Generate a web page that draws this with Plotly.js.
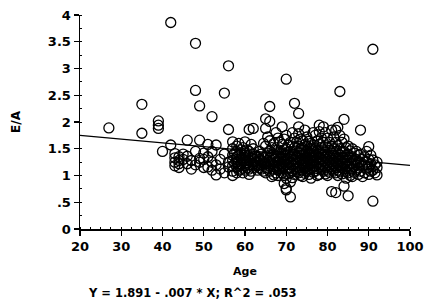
<!DOCTYPE html>
<html>
<head>
<meta charset="utf-8">
<script src="https://cdn.plot.ly/plotly-3.0.1.min.js"></script>
<style>html,body{margin:0;padding:0;background:#fff;}#chart{width:434px;height:307px;}</style>
</head>
<body>
<div id="chart"></div>
<script>
// Age (years) of each subject, group read on whole years
const age = [
  27, 35, 35, 39, 39, 39, 40, 42, 42, 43, 43, 43, 43,
  44, 44, 44, 44, 45, 45, 46, 46, 46, 47, 47,
  48, 48, 48, 48, 49, 49, 49, 49, 50, 50, 50, 51, 51, 51,
  52, 52, 52, 52, 53, 53, 53, 54, 54, 55, 55, 55, 56, 56, 56, 56,
  57, 57, 57, 57, 57, 57, 57, 58, 58, 58, 58, 58, 58, 58,
  59, 59, 59, 59, 59, 59, 60, 60, 60, 60, 60, 60, 60,
  61, 61, 61, 61, 61, 61, 61, 62, 62, 62, 62, 62, 62,
  63, 63, 63, 63, 64, 64, 64, 64,
  65, 65, 65, 65, 65, 65, 65, 66, 66, 66, 66, 66, 66, 66, 66,
  67, 67, 67, 67, 67, 67, 68, 68, 68, 68, 68, 68, 68,
  69, 69, 69, 69, 69, 69, 69,
  70, 70, 70, 70, 70, 70, 70, 70, 70, 70,
  71, 71, 71, 71, 71, 71, 71, 71,
  72, 72, 72, 72, 72, 72, 72, 72,
  73, 73, 73, 73, 73, 73, 73, 73, 73,
  74, 74, 74, 74, 74, 74, 74, 75, 75, 75, 75, 75, 75, 75,
  76, 76, 76, 76, 76, 76, 76, 77, 77, 77, 77, 77, 77,
  78, 78, 78, 78, 78, 78, 78, 78, 79, 79, 79, 79, 79, 79, 79,
  80, 80, 80, 80, 80, 80, 80, 81, 81, 81, 81, 81, 81, 81,
  82, 82, 82, 82, 82, 82, 82, 82, 83, 83, 83, 83, 83, 83, 83,
  84, 84, 84, 84, 84, 84, 84, 85, 85, 85, 85, 85, 85,
  86, 86, 86, 86, 86, 87, 87, 87, 87, 88, 88, 88, 88,
  89, 89, 89, 90, 90, 90, 90, 91, 91, 91, 91, 92, 92, 92
];
// E/A ratio of each subject in that group
const ea = [
  1.89, 2.33, 1.79, 2.02, 1.94, 1.88, 1.45, 3.86, 1.57, 1.41, 1.33, 1.25, 1.18,
  1.35, 1.28, 1.22, 1.15, 1.40, 1.30, 1.66, 1.22, 1.36, 1.28, 1.12,
  3.47, 2.59, 1.45, 1.20, 2.30, 1.66, 1.32, 1.25, 1.42, 1.15, 1.30, 1.58, 1.16, 1.35,
  2.10, 1.10, 1.45, 1.25, 1.57, 1.01, 1.20, 1.30, 1.12, 2.54, 1.40, 1.05, 3.05, 1.86, 1.16, 1.25,
  1.63, 1.50, 1.38, 1.28, 1.18, 1.08, 1.00, 1.55, 1.45, 1.35, 1.25, 1.15, 1.05, 1.30,
  1.48, 1.40, 1.32, 1.22, 1.12, 1.20, 1.63, 1.42, 1.33, 1.27, 1.18, 1.10, 1.38,
  1.86, 1.45, 1.35, 1.28, 1.20, 1.12, 1.02, 1.88, 1.50, 1.30, 1.22, 1.15, 1.40,
  1.35, 1.25, 1.18, 1.10, 1.40, 1.28, 1.20, 1.12,
  2.06, 1.88, 1.55, 1.35, 1.22, 1.15, 1.05, 2.29, 2.01, 1.65, 1.45, 1.32, 1.25, 1.18, 1.08,
  1.60, 1.40, 1.30, 1.20, 1.12, 1.01, 1.70, 1.48, 1.36, 1.27, 1.18, 1.10, 1.00,
  1.91, 1.58, 1.42, 1.33, 1.22, 1.14, 1.05,
  2.80, 1.75, 1.50, 1.38, 1.28, 1.20, 1.10, 0.95, 0.76, 0.73,
  1.62, 1.45, 1.35, 1.25, 1.15, 1.05, 0.88, 0.60,
  2.35, 1.70, 1.52, 1.40, 1.30, 1.22, 1.12, 1.02,
  2.16, 1.91, 1.78, 1.55, 1.42, 1.33, 1.24, 1.15, 1.05,
  1.65, 1.48, 1.38, 1.28, 1.20, 1.10, 0.98, 1.72, 1.55, 1.45, 1.35, 1.25, 1.17, 1.08,
  1.60, 1.42, 1.32, 1.22, 1.12, 0.95, 1.50, 1.75, 1.50, 1.38, 1.28, 1.18, 1.08,
  1.94, 1.82, 1.58, 1.45, 1.35, 1.25, 1.15, 1.02, 1.91, 1.62, 1.48, 1.38, 1.28, 1.18, 1.08,
  1.70, 1.52, 1.40, 1.30, 1.20, 1.10, 1.00, 1.85, 1.55, 1.42, 1.32, 1.22, 1.12, 0.70,
  1.85, 1.62, 1.45, 1.35, 1.25, 1.15, 1.05, 0.68, 2.57, 1.75, 1.50, 1.38, 1.28, 1.18, 1.08,
  2.05, 1.68, 1.45, 1.32, 1.22, 1.12, 0.80, 1.55, 1.40, 1.28, 1.18, 1.05, 0.62,
  1.50, 1.35, 1.22, 1.12, 0.98, 1.45, 1.30, 1.20, 1.10, 1.85, 1.40, 1.25, 1.08,
  1.35, 1.20, 1.05, 1.54, 1.30, 1.15, 1.02, 3.36, 1.29, 1.10, 0.52, 1.25, 1.01, 1.15
];
// Age of further subjects in the dense band (between whole years)
const ageBand = [
  57.5, 57.5, 58.5, 58.5, 58.5, 58.5, 59.5, 59.5, 59.5, 60.5, 60.5, 60.5,
  61.5, 61.5, 61.5, 62.5, 62.5, 62.5, 63.5, 63.5, 63.5, 64.5, 64.5, 64.5, 64.5,
  65.5, 65.5, 65.5, 65.5, 66.5, 66.5, 66.5, 66.5,
  67.5, 67.5, 67.5, 67.5, 67.5, 67.5, 68.5, 68.5, 68.5, 68.5, 68.5,
  69.5, 69.5, 69.5, 69.5, 69.5, 69.5, 69.5, 70.5, 70.5, 70.5, 70.5, 70.5, 70.5,
  71.5, 71.5, 71.5, 71.5, 71.5, 71.5, 71.5, 72.5, 72.5, 72.5, 72.5, 72.5, 72.5,
  73.5, 73.5, 73.5, 73.5, 73.5, 73.5, 73.5, 74.5, 74.5, 74.5, 74.5, 74.5, 74.5, 74.5,
  75.5, 75.5, 75.5, 75.5, 75.5, 75.5, 75.5, 76.5, 76.5, 76.5, 76.5, 76.5, 76.5, 76.5,
  77.5, 77.5, 77.5, 77.5, 77.5, 77.5, 78.5, 78.5, 78.5, 78.5, 78.5, 78.5,
  79.5, 79.5, 79.5, 79.5, 79.5, 79.5, 79.5, 80.5, 80.5, 80.5, 80.5, 80.5, 80.5,
  81.5, 81.5, 81.5, 81.5, 81.5, 81.5, 82.5, 82.5, 82.5, 82.5, 82.5, 82.5, 82.5,
  83.5, 83.5, 83.5, 83.5, 83.5, 83.5, 84.5, 84.5, 84.5, 84.5, 84.5, 84.5,
  85.5, 85.5, 85.5, 85.5, 85.5, 86.5, 86.5, 86.5, 86.5, 87.5, 87.5, 87.5, 87.5,
  88.5, 88.5, 88.5, 89.5, 89.5, 89.5, 90.5, 90.5, 90.5, 91.5, 91.5
];
// E/A ratio of those further subjects
const eaBand = [
  1.42, 1.22, 1.60, 1.38, 1.18, 1.10, 1.52, 1.28, 1.05, 1.48, 1.24, 1.14,
  1.58, 1.32, 1.08, 1.36, 1.26, 1.19, 1.45, 1.30, 1.14, 1.60, 1.34, 1.24, 1.08,
  1.72, 1.42, 1.28, 1.12, 1.52, 1.38, 1.22, 0.98,
  1.80, 1.48, 1.35, 1.25, 1.15, 1.05, 1.62, 1.42, 1.30, 1.22, 1.13,
  1.68, 1.48, 1.37, 1.27, 1.17, 1.00, 0.85, 1.57, 1.43, 1.32, 1.24, 1.14, 1.03,
  1.80, 1.55, 1.40, 1.30, 1.20, 1.09, 0.96, 1.62, 1.46, 1.36, 1.26, 1.17, 1.07,
  1.68, 1.50, 1.37, 1.29, 1.19, 1.10, 1.00, 1.85, 1.58, 1.42, 1.32, 1.23, 1.14, 1.04,
  1.64, 1.50, 1.40, 1.30, 1.21, 1.12, 1.02, 1.80, 1.56, 1.46, 1.36, 1.26, 1.17, 1.06,
  1.65, 1.45, 1.33, 1.23, 1.13, 1.00, 1.70, 1.52, 1.41, 1.31, 1.21, 1.11,
  1.80, 1.56, 1.44, 1.34, 1.24, 1.14, 1.03, 1.62, 1.47, 1.36, 1.26, 1.16, 1.06,
  1.72, 1.50, 1.38, 1.28, 1.18, 1.08, 1.90, 1.56, 1.41, 1.30, 1.20, 1.10, 1.00,
  1.62, 1.45, 1.34, 1.24, 1.14, 1.03, 1.52, 1.38, 1.27, 1.17, 1.07, 0.95,
  1.46, 1.33, 1.23, 1.12, 1.00, 1.42, 1.28, 1.17, 1.06, 1.38, 1.24, 1.14, 1.02,
  1.30, 1.18, 0.98, 1.45, 1.25, 1.12, 1.38, 1.22, 1.08, 1.20, 1.05
];
// Regression: Y = 1.891 - .007 * X
const fitIntercept = 1.891;
const fitSlope = -0.007;
const fitAge = [20, 100];
const fitEA = fitAge.map(a => fitIntercept + fitSlope * a);

const yTickVals = [0, 0.5, 1, 1.5, 2, 2.5, 3, 3.5, 4];
const yTickText = ['0', '.5', '1', '1.5', '2', '2.5', '3', '3.5', '4'];
const xTickVals = [20, 30, 40, 50, 60, 70, 80, 90, 100];
const equationText = 'Y = 1.891 - .007 * X; R^2 = .053';

const fnt = {family: 'DejaVu Sans', size: 13, color: '#000', weight: 'bold'};

const traces = [
  {x: age.concat(ageBand), y: ea.concat(eaBand), type: 'scatter', mode: 'markers', cliponaxis: false,
   marker: {symbol: 'circle-open', size: 10, color: '#000', line: {width: 1.3, color: '#000'}}},
  {x: fitAge, y: fitEA, type: 'scatter', mode: 'lines', line: {color: '#000', width: 1.3}}
];

const layout = {
  width: 434, height: 307,
  margin: {l: 80, r: 24, t: 15, b: 78},
  paper_bgcolor: '#fff', plot_bgcolor: '#fff',
  showlegend: false,
  font: fnt,
  xaxis: {
    range: [20, 100], tickvals: xTickVals, showgrid: false, zeroline: false,
    showline: true, linecolor: '#000', linewidth: 1.5,
    ticks: 'outside', ticklen: 5, tickwidth: 1.3, tickcolor: '#000',
    minor: {ticks: 'inside', ticklen: 2, tickwidth: 1, tickcolor: '#000', dtick: 2.5, showgrid: false},
    tickfont: fnt,
    title: {text: 'Age', font: {family: 'DejaVu Sans', size: 11, weight: 'bold', color: '#000'}, standoff: 14}
  },
  yaxis: {
    range: [0, 4], tickvals: yTickVals, ticktext: yTickText, showgrid: false, zeroline: false,
    showline: true, linecolor: '#000', linewidth: 1.5,
    ticks: 'outside', ticklen: 5, tickwidth: 1.3, tickcolor: '#000',
    minor: {ticks: 'inside', ticklen: 2, tickwidth: 1, tickcolor: '#000', dtick: 0.25, showgrid: false},
    tickfont: fnt,
    title: {text: 'E/A', font: {family: 'DejaVu Sans', size: 12, weight: 'bold', color: '#000'}, standoff: 24}
  },
  annotations: [{
    text: equationText, xref: 'paper', yref: 'paper', x: 0.342, y: -0.30,
    xanchor: 'center', yanchor: 'middle', showarrow: false,
    font: {family: 'DejaVu Sans', size: 11.5, weight: 'bold', color: '#000'}
  }]
};

Plotly.newPlot('chart', traces, layout, {staticPlot: true, displayModeBar: false});
</script>
</body>
</html>
